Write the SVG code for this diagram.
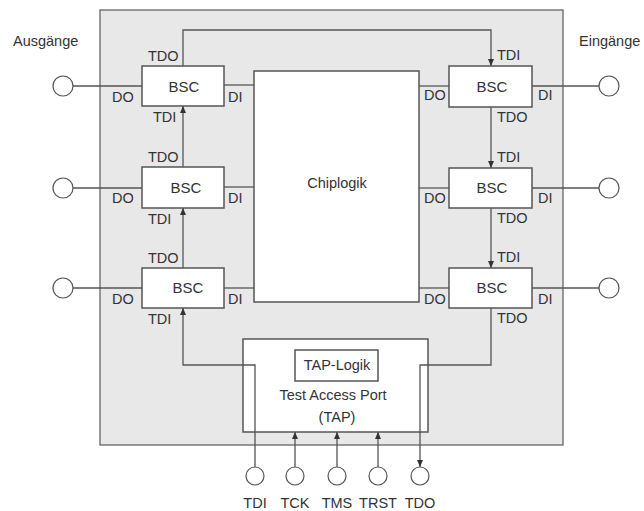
<svg xmlns="http://www.w3.org/2000/svg" width="644" height="511" viewBox="0 0 644 511">
<style>
.ln{stroke:#555;stroke-width:1.3;fill:none}
.box{fill:#fff;stroke:#555;stroke-width:1.5}
.pin{fill:#fff;stroke:#555;stroke-width:1.2}
.t{font-family:"Liberation Sans",Arial,sans-serif;font-size:14.5px;fill:#333}
.b{font-family:"Liberation Sans",Arial,sans-serif;font-size:15px;fill:#333;text-anchor:middle}
.m{text-anchor:middle}
</style>
<defs>
<marker id="ah" markerWidth="8" markerHeight="8" refX="7" refY="4" orient="auto" markerUnits="userSpaceOnUse">
<path d="M0,1 L7,4 L0,7 Z" fill="#333"/>
</marker>
</defs>
<rect id="chip" x="100" y="10" width="463" height="435" fill="#e8e8e8" stroke="#666" stroke-width="1.3"/>
<text class="t" x="13" y="46">Ausgänge</text>
<text class="t" x="579" y="46">Eingänge</text>
<g id="chiplogik">
<rect class="box" x="254" y="71" width="165" height="231"/>
<text class="t m" x="337" y="188">Chiplogik</text>
</g>
<g id="bsc-l1">
<rect class="box" x="142" y="66" width="82" height="40"/>
<text class="b" x="184" y="92">BSC</text>
<text class="t" x="148" y="61">TDO</text>
<text class="t" x="112" y="102">DO</text>
<text class="t" x="228" y="102">DI</text>
<text class="t" x="153" y="122">TDI</text>
</g>
<g id="bsc-l2">
<rect class="box" x="142" y="167" width="82" height="41"/>
<text class="b" x="186" y="193">BSC</text>
<text class="t" x="148" y="162">TDO</text>
<text class="t" x="112" y="203">DO</text>
<text class="t" x="228" y="203">DI</text>
<text class="t" x="148" y="224">TDI</text>
</g>
<g id="bsc-l3">
<rect class="box" x="142" y="268" width="82" height="40"/>
<text class="b" x="188" y="293">BSC</text>
<text class="t" x="148" y="263">TDO</text>
<text class="t" x="112" y="304">DO</text>
<text class="t" x="228" y="304">DI</text>
<text class="t" x="148" y="324">TDI</text>
</g>
<g id="bsc-r1">
<rect class="box" x="449" y="66" width="83" height="41"/>
<text class="b" x="492" y="92">BSC</text>
<text class="t" x="497" y="60">TDI</text>
<text class="t" x="424" y="100">DO</text>
<text class="t" x="538" y="100">DI</text>
<text class="t" x="497" y="122">TDO</text>
</g>
<g id="bsc-r2">
<rect class="box" x="449" y="168" width="83" height="40"/>
<text class="b" x="492" y="193">BSC</text>
<text class="t" x="497" y="162">TDI</text>
<text class="t" x="424" y="203">DO</text>
<text class="t" x="538" y="203">DI</text>
<text class="t" x="497" y="223">TDO</text>
</g>
<g id="bsc-r3">
<rect class="box" x="449" y="268" width="83" height="40"/>
<text class="b" x="492" y="293">BSC</text>
<text class="t" x="497" y="262">TDI</text>
<text class="t" x="424" y="304">DO</text>
<text class="t" x="538" y="304">DI</text>
<text class="t" x="497" y="323">TDO</text>
</g>
<g id="tap">
<rect class="box" x="243" y="339" width="185" height="93"/>
<rect class="box" x="295" y="350" width="83" height="31"/>
<text class="t m" x="337" y="370">TAP-Logik</text>
<text class="t m" x="333" y="400">Test Access Port</text>
<text class="t m" x="337" y="422">(TAP)</text>
</g>
<g id="connectors">
<line class="ln" x1="73" y1="86" x2="142" y2="86"/>
<line class="ln" x1="73" y1="188" x2="142" y2="188"/>
<line class="ln" x1="73" y1="288" x2="142" y2="288"/>
<line class="ln" x1="224" y1="85" x2="254" y2="85"/>
<line class="ln" x1="224" y1="187" x2="254" y2="187"/>
<line class="ln" x1="224" y1="288" x2="254" y2="288"/>
<line class="ln" x1="419" y1="86" x2="449" y2="86"/>
<line class="ln" x1="419" y1="188" x2="449" y2="188"/>
<line class="ln" x1="419" y1="288" x2="449" y2="288"/>
<line class="ln" x1="532" y1="86" x2="599" y2="86"/>
<line class="ln" x1="532" y1="188" x2="599" y2="188"/>
<line class="ln" x1="532" y1="288" x2="599" y2="288"/>
<polyline class="ln" points="183,66 183,30 491,30 491,66" marker-end="url(#ah)"/>
<line class="ln" x1="491" y1="107" x2="491" y2="168" marker-end="url(#ah)"/>
<line class="ln" x1="491" y1="208" x2="491" y2="268" marker-end="url(#ah)"/>
<line class="ln" x1="183" y1="268" x2="183" y2="208" marker-end="url(#ah)"/>
<line class="ln" x1="183" y1="167" x2="183" y2="106" marker-end="url(#ah)"/>
<polyline class="ln" points="491,308 491,365 420,365 420,467" marker-end="url(#ah)"/>
<polyline class="ln" points="255,467 255,365 183,365 183,308" marker-end="url(#ah)"/>
<line class="ln" x1="295" y1="467" x2="295" y2="432" marker-end="url(#ah)"/>
<line class="ln" x1="337" y1="467" x2="337" y2="432" marker-end="url(#ah)"/>
<line class="ln" x1="378" y1="467" x2="378" y2="432" marker-end="url(#ah)"/>
</g>
<g id="pins-left">
<circle class="pin" cx="63" cy="86" r="10"/>
<circle class="pin" cx="63" cy="188" r="10"/>
<circle class="pin" cx="63" cy="288" r="10"/>
</g>
<g id="pins-right">
<circle class="pin" cx="609" cy="86" r="10"/>
<circle class="pin" cx="609" cy="188" r="10"/>
<circle class="pin" cx="609" cy="288" r="10"/>
</g>
<g id="pins-tap">
<circle class="pin" cx="255" cy="476" r="9"/>
<circle class="pin" cx="295" cy="476" r="9"/>
<circle class="pin" cx="337" cy="476" r="9"/>
<circle class="pin" cx="378" cy="476" r="9"/>
<circle class="pin" cx="420" cy="476" r="9"/>
<text class="t m" x="255" y="508">TDI</text>
<text class="t m" x="295" y="508">TCK</text>
<text class="t m" x="337" y="508">TMS</text>
<text class="t m" x="378" y="508">TRST</text>
<text class="t m" x="420" y="508">TDO</text>
</g>
</svg>
